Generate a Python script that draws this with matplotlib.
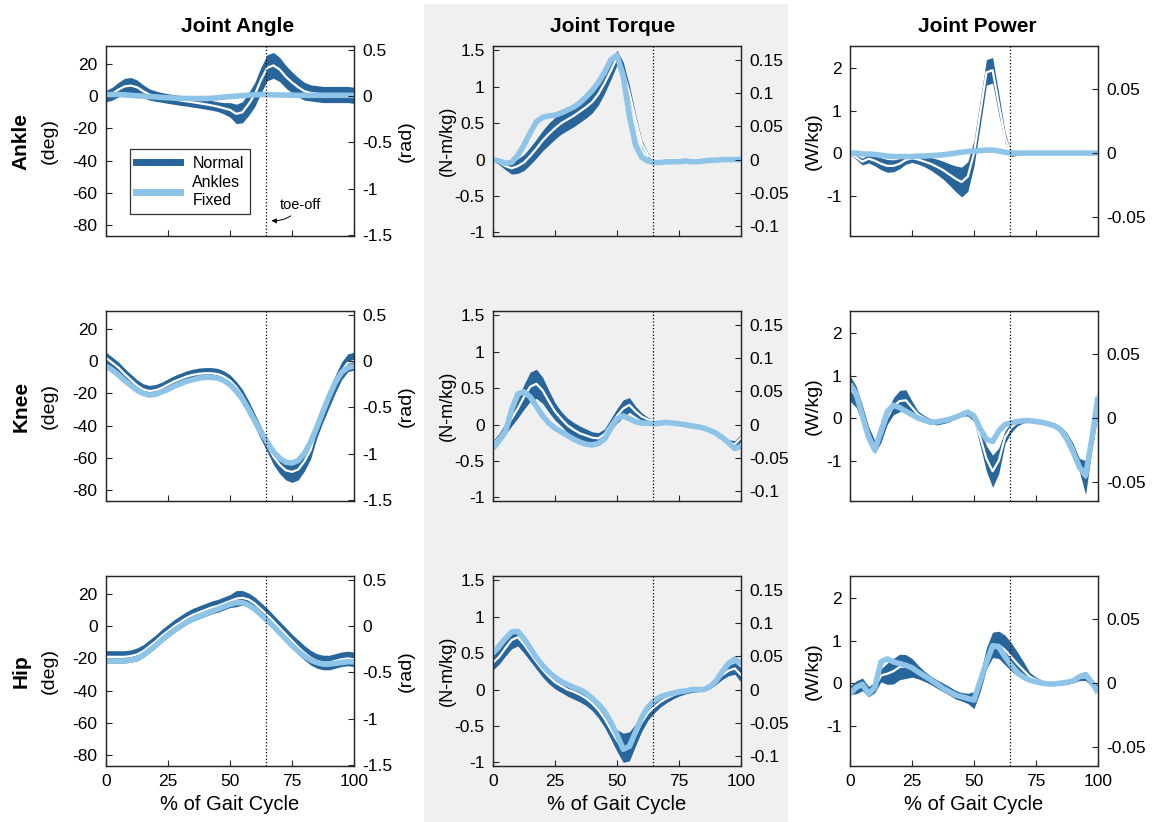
import numpy as np
import matplotlib.pyplot as plt
from matplotlib.patches import Rectangle
from matplotlib.lines import Line2D
from matplotlib.ticker import FormatStrFormatter

plt.rcParams["font.family"] = ["Liberation Sans", "DejaVu Sans"]
plt.rcParams["axes.unicode_minus"] = False

# % of gait cycle, sampled every 2.5 %
gait = np.arange(0, 100.1, 2.5)
toe_off = 64.5

joints = ["Ankle", "Knee", "Hip"]
col_titles = ["Joint Angle", "Joint Torque", "Joint Power"]

# ---------------- joint angle (deg) ----------------
ankle_ang_mean = [0, 1.5, 4, 6, 6.5, 5.5, 3, 1, 0, -0.8, -1.5, -2.1, -2.7, -3.2, -3.8, -4.4, -5, -5.7,
                  -6.5, -7.5, -8.5, -11, -10, -5, 1, 10, 17.5, 19, 16.5, 12, 8.5, 5.5, 3, 2, 1.5, 1,
                  1, 1, 1, 1, 0.5]
ankle_ang_sd = [3.5, 4, 4.5, 5, 5, 4.5, 4, 3.5, 3.2, 3, 3, 3, 3, 3, 3, 3, 3, 3, 3, 3.5, 4.5, 6, 6.5,
                7, 7.5, 8, 8, 8, 7.5, 7, 6.5, 6, 5.5, 5, 5, 5, 5, 5, 5, 5, 5]
ankle_ang_fixed = [1, 1, 1, 0.8, 0.5, 0.2, 0, -0.3, -0.5, -0.8, -1, -1.2, -1.3, -1.4, -1.5, -1.5, -1.5,
                   -1.3, -1, -0.6, -0.3, 0, 0.3, 0.6, 0.8, 1, 1, 0.8, 0.7, 0.6, 0.6, 0.5, 0.5, 0.5, 0.5,
                   0.5, 0.5, 0.5, 0.5, 0.5, 0.5]

knee_ang_mean = [2, -1, -4, -8, -11.5, -15, -17.5, -18.5, -18, -16.5, -14.5, -12.5, -11, -9.5, -8.5,
                 -7.8, -7.5, -7.5, -8, -9.5, -12, -16, -21.5, -28.5, -36.5, -44.5, -52, -59, -64,
                 -67.5, -68.5, -67, -62, -55, -42, -32, -23, -14, -6, -1, 0]
knee_ang_sd = [3.5, 3.5, 3.5, 3.5, 3.5, 3.5, 3.5, 3.5, 3.5, 3.5, 3.5, 3.5, 3.5, 3.5, 3.5, 3.5, 3.5,
               3.5, 3.5, 3.5, 3.5, 3.5, 4, 4, 4, 4, 4, 5, 5.5, 6, 6.5, 6.5, 6, 5.5, 5.5, 5.5, 5.5,
               5.5, 5.5, 5.5, 5.5]
knee_ang_fixed = [-3, -5.5, -8.5, -12, -15, -18, -20, -21, -20.5, -19, -17.5, -15.5, -14, -12.5, -11.5,
                  -10.5, -10, -10, -10.5, -12, -14.5, -18.5, -23.5, -30, -37, -44, -50, -56, -60,
                  -62.5, -63, -61.5, -57, -50, -41, -31, -21.5, -13, -7, -4, -3]

hip_ang_mean = [-19, -19, -19, -19, -18.5, -17.5, -15.5, -12.5, -9.5, -6, -3, 0, 2.5, 5, 7, 8.5, 10,
                11.5, 12.5, 14, 15.5, 17, 17.5, 16.5, 14, 10.5, 7, 3, -1, -5, -9, -13, -16.5, -19.5,
                -21.5, -22.5, -22.5, -21.5, -20.5, -20, -20.5]
hip_ang_sd = [3.8, 3.8, 3.8, 3.8, 3.8, 4, 4, 4, 4, 4, 4, 4, 4, 4, 4, 4, 4, 4, 4, 4, 4, 5, 4.5, 4, 4,
              4, 4, 4, 4, 4, 4, 4.5, 4.5, 4.5, 4.5, 4.5, 4.5, 4.5, 4.5, 4.5, 4.5]
hip_ang_fixed = [-21.5, -21.5, -21.5, -21.5, -21, -20, -18, -15, -12, -8.5, -5.5, -2.5, 0, 2.5, 4.5, 6,
                 7.5, 9, 10.5, 12, 13.5, 14.5, 14.5, 13, 10.5, 7, 3.5, 0, -4, -8, -12, -15.5, -18.5,
                 -21, -22.5, -23.5, -23.5, -23, -22.5, -22, -22]

# ---------------- joint torque (N-m/kg) ----------------
ankle_trq_mean = [0, -0.04, -0.09, -0.12, -0.09, -0.04, 0.05, 0.15, 0.26, 0.35, 0.43, 0.5, 0.55, 0.6,
                  0.66, 0.72, 0.79, 0.9, 1.05, 1.22, 1.4, 1.22, 0.92, 0.55, 0.22, 0.06, 0, 0, 0, 0, 0,
                  0, 0, 0, 0, 0, 0, 0, 0, 0, 0]
ankle_trq_sd = [0.02, 0.03, 0.05, 0.08, 0.1, 0.11, 0.12, 0.13, 0.14, 0.15, 0.15, 0.15, 0.15, 0.15,
                0.15, 0.15, 0.15, 0.15, 0.14, 0.12, 0.1, 0.12, 0.1, 0.07, 0.05, 0.03, 0.01, 0.01,
                0.01, 0.01, 0.01, 0.01, 0.01, 0.01, 0.01, 0.01, 0.01, 0.01, 0.01, 0.01, 0.01]
ankle_trq_fixed = [0, -0.02, -0.05, -0.04, 0.06, 0.2, 0.37, 0.52, 0.58, 0.6, 0.61, 0.64, 0.68, 0.72,
                   0.78, 0.86, 0.95, 1.06, 1.2, 1.37, 1.43, 1.15, 0.6, 0.2, 0.03, -0.02, -0.04, -0.04,
                   -0.03, -0.03, -0.03, -0.02, -0.03, -0.03, -0.02, -0.01, -0.01, 0, 0, 0, 0]

knee_trq_mean = [-0.27, -0.18, -0.06, 0.08, 0.22, 0.38, 0.52, 0.56, 0.47, 0.32, 0.18, 0.08, -0.01,
                 -0.07, -0.12, -0.15, -0.18, -0.19, -0.13, 0, 0.12, 0.22, 0.27, 0.18, 0.11, 0.07,
                 0.05, 0.04, 0.03, 0.03, 0.02, 0.01, 0, -0.01, -0.03, -0.07, -0.12, -0.18, -0.25,
                 -0.27, -0.18]
knee_trq_sd = [0.05, 0.06, 0.08, 0.1, 0.13, 0.17, 0.2, 0.2, 0.18, 0.15, 0.12, 0.1, 0.1, 0.1, 0.1,
               0.09, 0.08, 0.08, 0.07, 0.08, 0.1, 0.12, 0.1, 0.07, 0.05, 0.03, 0.02, 0.02, 0.02,
               0.02, 0.02, 0.02, 0.02, 0.02, 0.02, 0.02, 0.02, 0.03, 0.04, 0.05, 0.05]
knee_trq_fixed = [-0.33, -0.22, -0.1, 0.2, 0.42, 0.45, 0.38, 0.25, 0.12, 0.02, -0.05, -0.1, -0.15,
                  -0.2, -0.24, -0.27, -0.28, -0.26, -0.2, -0.05, 0.08, 0.12, 0.08, 0.04, 0.02, 0.02,
                  0.01, 0.02, 0.03, 0.02, 0.01, 0, -0.02, -0.03, -0.05, -0.08, -0.12, -0.18, -0.25,
                  -0.33, -0.3]

hip_trq_mean = [0.37, 0.45, 0.57, 0.68, 0.72, 0.62, 0.5, 0.38, 0.27, 0.18, 0.1, 0.05, 0, -0.03,
                -0.07, -0.12, -0.19, -0.28, -0.4, -0.55, -0.7, -0.8, -0.78, -0.62, -0.45, -0.32,
                -0.24, -0.17, -0.12, -0.08, -0.05, -0.03, -0.01, 0, 0.01, 0.05, 0.12, 0.2, 0.26,
                0.29, 0.2]
hip_trq_sd = [0.1, 0.1, 0.11, 0.12, 0.12, 0.12, 0.11, 0.1, 0.1, 0.1, 0.09, 0.09, 0.09, 0.1, 0.1,
              0.1, 0.1, 0.11, 0.12, 0.13, 0.15, 0.2, 0.2, 0.15, 0.12, 0.1, 0.08, 0.07, 0.06, 0.05,
              0.04, 0.03, 0.03, 0.03, 0.03, 0.04, 0.05, 0.06, 0.07, 0.08, 0.1]
hip_trq_fixed = [0.5, 0.6, 0.7, 0.79, 0.8, 0.7, 0.57, 0.44, 0.33, 0.24, 0.17, 0.11, 0.07, 0.03, 0,
                 -0.05, -0.12, -0.2, -0.3, -0.45, -0.62, -0.82, -0.78, -0.58, -0.38, -0.24, -0.15,
                 -0.1, -0.07, -0.05, -0.03, -0.02, 0, 0, 0, 0.04, 0.12, 0.25, 0.36, 0.42, 0.35]

# ---------------- joint power (W/kg) ----------------
ankle_pow_mean = [0, -0.1, -0.2, -0.13, -0.18, -0.25, -0.3, -0.3, -0.25, -0.16, -0.12, -0.15, -0.2,
                  -0.25, -0.32, -0.4, -0.5, -0.6, -0.68, -0.55, 0, 0.95, 1.9, 1.95, 1.15, 0.38, -0.03,
                  0, 0, 0, 0, 0, 0, 0, 0, 0, 0, 0, 0, 0, 0]
ankle_pow_sd = [0.03, 0.05, 0.08, 0.1, 0.12, 0.14, 0.15, 0.14, 0.12, 0.1, 0.1, 0.11, 0.12, 0.15,
                0.18, 0.21, 0.25, 0.3, 0.35, 0.35, 0.3, 0.3, 0.3, 0.3, 0.25, 0.12, 0.05, 0.05, 0.01,
                0.01, 0.01, 0.01, 0.01, 0.01, 0.01, 0.01, 0.01, 0.01, 0.01, 0.01, 0.01]
ankle_pow_fixed = [0, 0, -0.02, -0.02, -0.03, -0.05, -0.07, -0.08, -0.08, -0.08, -0.08, -0.07, -0.07,
                   -0.06, -0.05, -0.04, -0.02, 0, 0.02, 0.04, 0.05, 0.06, 0.07, 0.07, 0.05, 0.02, 0,
                   0, 0, 0, 0, 0, 0, 0, 0, 0, 0, 0, 0, 0, 0]

knee_pow_mean = [0.7, 0.5, 0.1, -0.35, -0.68, -0.42, 0, 0.28, 0.4, 0.42, 0.25, 0.08, 0, -0.08, -0.1,
                 -0.08, -0.04, 0.04, 0.1, 0.13, 0, -0.45, -0.95, -1.25, -1, -0.45, -0.22, -0.1,
                 -0.06, -0.06, -0.08, -0.1, -0.12, -0.17, -0.25, -0.42, -0.7, -1.1, -1.4, -0.5, 0.38]
knee_pow_sd = [0.3, 0.25, 0.2, 0.15, 0.15, 0.15, 0.15, 0.2, 0.25, 0.25, 0.15, 0.08, 0.06, 0.06,
               0.06, 0.05, 0.05, 0.05, 0.05, 0.08, 0.08, 0.2, 0.3, 0.38, 0.3, 0.15, 0.12, 0.08,
               0.05, 0.04, 0.04, 0.05, 0.05, 0.05, 0.05, 0.07, 0.1, 0.15, 0.4, 0.25, 0.3]
knee_pow_fixed = [0.8, 0.57, 0.05, -0.45, -0.75, -0.3, 0.15, 0.3, 0.25, 0.16, 0.08, 0, -0.05, -0.1,
                  -0.09, -0.06, -0.03, 0.02, 0.08, 0.14, 0.05, -0.25, -0.5, -0.55, -0.3, -0.15,
                  -0.11, -0.08, -0.06, -0.06, -0.08, -0.1, -0.14, -0.18, -0.28, -0.5, -0.8, -1.15,
                  -1.35, -0.5, 0.5]

hip_pow_mean = [-0.17, -0.1, -0.03, -0.2, -0.1, 0.18, 0.22, 0.28, 0.38, 0.39, 0.36, 0.26, 0.16, 0.07,
                -0.02, -0.1, -0.18, -0.27, -0.32, -0.36, -0.4, 0, 0.58, 0.9, 0.9, 0.78, 0.62, 0.45,
                0.3, 0.15, 0.08, 0.03, 0, -0.02, -0.02, 0, 0.05, 0.12, 0.14, 0, -0.15]
hip_pow_sd = [0.1, 0.15, 0.15, 0.12, 0.12, 0.15, 0.25, 0.3, 0.3, 0.28, 0.22, 0.16, 0.12, 0.1, 0.1,
              0.1, 0.1, 0.1, 0.1, 0.12, 0.2, 0.2, 0.25, 0.3, 0.32, 0.35, 0.33, 0.28, 0.2, 0.1,
              0.06, 0.04, 0.03, 0.03, 0.03, 0.03, 0.04, 0.06, 0.08, 0.08, 0.1]
hip_pow_fixed = [-0.25, -0.1, -0.03, -0.25, -0.1, 0.5, 0.57, 0.5, 0.46, 0.42, 0.36, 0.26, 0.17, 0.08,
                 -0.02, -0.12, -0.2, -0.28, -0.32, -0.36, -0.4, 0.05, 0.48, 0.88, 0.85, 0.62, 0.42,
                 0.25, 0.14, 0.07, 0.03, 0, -0.02, -0.02, 0, 0.02, 0.05, 0.15, 0.2, 0.02, -0.22]

panels = [
    [(ankle_ang_mean, ankle_ang_sd, ankle_ang_fixed),
     (ankle_trq_mean, ankle_trq_sd, ankle_trq_fixed),
     (ankle_pow_mean, ankle_pow_sd, ankle_pow_fixed)],
    [(knee_ang_mean, knee_ang_sd, knee_ang_fixed),
     (knee_trq_mean, knee_trq_sd, knee_trq_fixed),
     (knee_pow_mean, knee_pow_sd, knee_pow_fixed)],
    [(hip_ang_mean, hip_ang_sd, hip_ang_fixed),
     (hip_trq_mean, hip_trq_sd, hip_trq_fixed),
     (hip_pow_mean, hip_pow_sd, hip_pow_fixed)],
]

# axis settings per column: ylim, left ticks, right scale, right ticks, labels
ylims = [(-86.5, 31), (-1.05, 1.56), (-1.95, 2.52)]
left_ticks = [[-80, -60, -40, -20, 0, 20], [-1, -0.5, 0, 0.5, 1, 1.5], [-1, 0, 1, 2]]
right_scale = [np.pi / 180, 1 / 9.1, 1 / 30]
right_ticks = [[-1.5, -1, -0.5, 0, 0.5], [-0.1, -0.05, 0, 0.05, 0.1, 0.15], [-0.05, 0, 0.05]]
left_units = ["(deg)", "(N-m/kg)", "(W/kg)"]

DARK = "#28659a"
LIGHT = "#8ec4e8"
GRAY = "#f0f0f0"
SPINE = "#262626"

W, H = 1156, 822
fig = plt.figure(figsize=(W / 100, H / 100), dpi=100)
fig.add_artist(Rectangle((424 / W, 0), (788 - 424) / W, 1 - 4 / H, transform=fig.transFigure,
                         facecolor=GRAY, edgecolor="none", zorder=0))

col_left = [106, 493, 850]
col_w = 248
row_top = [46, 311, 576]
row_h = 190
# right edge of the rotated unit label, in axes fraction
unit_x = [-0.194, -0.151, -0.113]
title_x = [238, 613, 977]

for r in range(3):
    for c in range(3):
        mean, sd, fixed = (np.array(v, dtype=float) for v in panels[r][c])
        ax = fig.add_axes([col_left[c] / W, 1 - (row_top[r] + row_h) / H, col_w / W, row_h / H])
        ax.set_facecolor("none" if c == 1 else "white")

        ax.fill_between(gait, mean - sd, mean + sd, color=DARK, lw=0, zorder=2)
        ax.plot(gait, mean, color="white", lw=1.6, zorder=3)
        ax.plot(gait, fixed, color=LIGHT, lw=4, solid_capstyle="butt", zorder=4)
        ax.axvline(toe_off, color="k", lw=0.9, ls=":", zorder=5)

        ax.set_xlim(0, 100)
        ax.set_ylim(*ylims[c])
        ax.set_xticks([0, 25, 50, 75, 100])
        ax.set_yticks(left_ticks[c])
        ax.yaxis.set_major_formatter(FormatStrFormatter("%g"))
        ax.tick_params(direction="in", length=4, width=0.8, labelsize=12.5, pad=6,
                       top=False, right=False, colors=SPINE, labelcolor="black")
        if r < 2:
            ax.tick_params(labelbottom=False)
        else:
            ax.set_xlabel("% of Gait Cycle", fontsize=14.5)
            ax.xaxis.set_label_coords(0.5, -0.15)

        ax2 = ax.twinx()
        lo, hi = ylims[c]
        ax2.set_ylim(lo * right_scale[c], hi * right_scale[c])
        ax2.set_yticks(right_ticks[c])
        ax2.yaxis.set_major_formatter(FormatStrFormatter("%g"))
        ax2.tick_params(direction="in", length=4, width=0.8, labelsize=12.5, pad=6,
                        colors=SPINE, labelcolor="black")
        for a in (ax, ax2):
            for s in a.spines.values():
                s.set_color(SPINE)
                s.set_linewidth(0.9)

        ax.set_ylabel(left_units[c], fontsize=14 if c != 1 else 13)
        ax.yaxis.set_label_coords(unit_x[c], 0.5)
        if c == 0:
            ax2.set_ylabel("(rad)", fontsize=14, rotation=90)
            ax2.yaxis.set_label_coords(1.177, 0.5)
            ax.text(-0.343, 0.5, joints[r], transform=ax.transAxes, rotation=90,
                    ha="center", va="center", fontsize=15, fontweight="bold")

        if r == 0:
            fig.text(title_x[c] / W, 1 - 27 / H, col_titles[c], ha="center", va="center",
                     fontsize=15, fontweight="bold")

        if r == 0 and c == 0:
            handles = [Line2D([], [], color=DARK, lw=5), Line2D([], [], color=LIGHT, lw=5)]
            leg = ax.legend(handles, ["Normal", "Ankles\nFixed"], loc="lower left",
                            bbox_to_anchor=(0.097, 0.115), fontsize=11.5, frameon=True,
                            fancybox=False, edgecolor="black", borderaxespad=0,
                            handlelength=2.7, labelspacing=0.3, borderpad=0.4)
            leg.get_frame().set_linewidth(0.9)
            leg.set_zorder(10)
            ax.annotate("toe-off", xy=(66.7, -77), xytext=(70.1, -67.5), fontsize=10.5,
                        ha="left", va="center", zorder=10,
                        arrowprops=dict(arrowstyle="-|>", connectionstyle="arc3,rad=-0.3",
                                        lw=0.7, color="k", mutation_scale=7, shrinkA=1, shrinkB=0))

fig.savefig("out.png", dpi=100)
